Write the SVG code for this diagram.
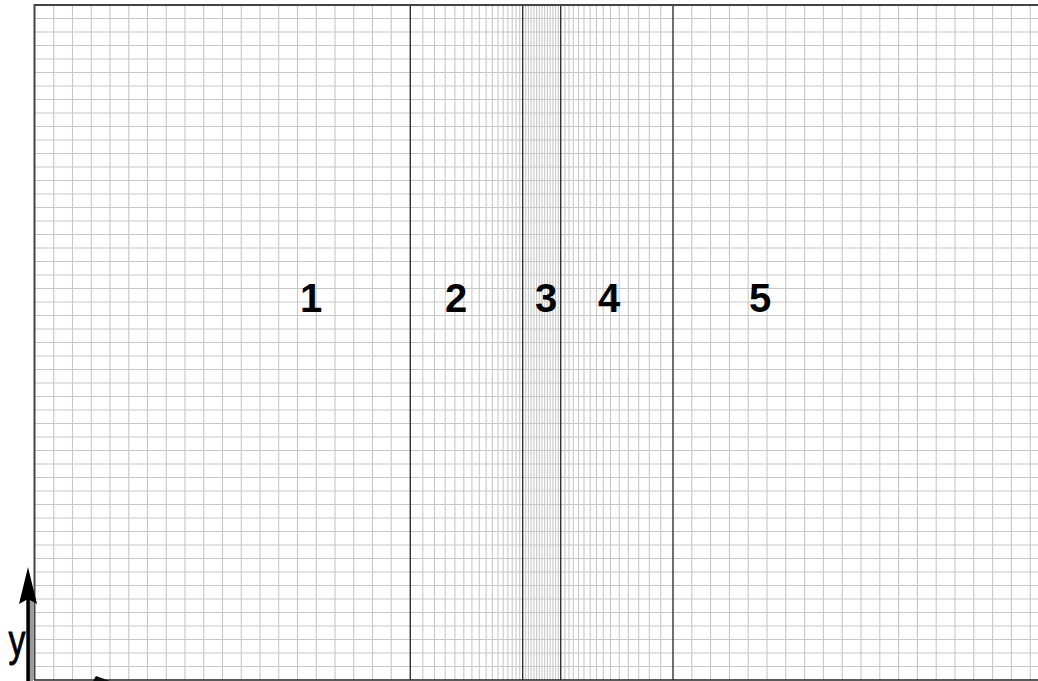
<svg xmlns="http://www.w3.org/2000/svg" width="1038" height="681" viewBox="0 0 1038 681">
<style>
.grid{fill:none;stroke:#c8c8c8;stroke-width:1.1}
.sep{fill:none;stroke:#333;stroke-width:1.4}
.border{fill:none;stroke:#444;stroke-width:2}
.lbl{font-family:"Liberation Sans",Arial,sans-serif;font-weight:bold;font-size:40px;fill:#000;text-anchor:middle}
.axis{font-family:"Liberation Sans",Arial,sans-serif;font-size:34px;fill:#000;stroke:#000;stroke-width:0.6;text-anchor:middle}
</style>
<rect width="1038" height="681" fill="#fff"/>
<g id="rows">
<path class="grid" d="M35 18.5H1038M35 32H1038M35 45.5H1038M35 59H1038M35 72.5H1038M35 86H1038M35 99.5H1038M35 113H1038M35 126.5H1038M35 140H1038M35 153.5H1038M35 167H1038M35 180.5H1038M35 194H1038M35 207.5H1038M35 221H1038M35 234.5H1038M35 248H1038M35 261.5H1038M35 275H1038M35 288.5H1038M35 302H1038M35 315.5H1038M35 329H1038M35 342.5H1038M35 356H1038M35 369.5H1038M35 383H1038M35 396.5H1038M35 410H1038M35 423.5H1038M35 437H1038M35 450.5H1038M35 464H1038M35 477.5H1038M35 491H1038M35 504.5H1038M35 518H1038M35 531.5H1038M35 545H1038M35 558.5H1038M35 572H1038M35 585.5H1038M35 599H1038M35 612.5H1038M35 626H1038M35 639.5H1038M35 653H1038M35 666.5H1038"/>
</g>
<g id="region1">
<path class="grid" d="M53.75 5V680M72.5 5V680M91.25 5V680M110 5V680M128.75 5V680M147.5 5V680M166.25 5V680M185 5V680M203.75 5V680M222.5 5V680M241.25 5V680M260 5V680M278.75 5V680M297.5 5V680M316.25 5V680M335 5V680M353.75 5V680M372.5 5V680M391.25 5V680"/>
<text class="lbl" x="311" y="312">1</text>
</g>
<g id="region2">
<path class="grid" d="M422.8 5V680M434.5 5V680M445.2 5V680M454.9 5V680M463.8 5V680M471.9 5V680M479.3 5V680M486.1 5V680M492.3 5V680M498 5V680M503.2 5V680M507.9 5V680M512.2 5V680M516.1 5V680M519.7 5V680"/>
<text class="lbl" x="456" y="312">2</text>
</g>
<g id="region3">
<path class="grid" d="M525.7 5V680M528.4 5V680M531.1 5V680M533.9 5V680M536.6 5V680M539.3 5V680M542 5V680M544.7 5V680M547.4 5V680M550.1 5V680M552.9 5V680M555.6 5V680M558.3 5V680"/>
<text class="lbl" x="546" y="312">3</text>
</g>
<g id="region4">
<path class="grid" d="M565 5V680M569 5V680M573.3 5V680M578.5 5V680M584 5V680M590.2 5V680M596.5 5V680M603.2 5V680M610.5 5V680M619.2 5V680M628.3 5V680M638.7 5V680M649.3 5V680M660.7 5V680"/>
<text class="lbl" x="609" y="312">4</text>
</g>
<g id="region5">
<path class="grid" d="M691.8 5V680M710.6 5V680M729.4 5V680M748.2 5V680M767 5V680M785.8 5V680M804.6 5V680M823.4 5V680M842.2 5V680M861 5V680M879.8 5V680M898.6 5V680M917.4 5V680M936.2 5V680M955 5V680M973.8 5V680M992.6 5V680M1011.4 5V680M1030.2 5V680"/>
<text class="lbl" x="760" y="312">5</text>
</g>
<g id="connectors">
<path class="sep" d="M410.3 5V680M522.7 5V680M560.7 5V680M673 5V680"/>
<path class="border" d="M34.5 680V5H1038"/>
<path fill="none" stroke="#222" stroke-width="1.6" d="M34 680H1038"/>
<rect x="30" y="598" width="3" height="83" fill="#9a9a9a"/>
<rect x="26.3" y="598" width="3.6" height="83" fill="#000"/>
<polygon points="28,567 37,604 28,599 19,604" fill="#000"/>
<polygon points="93,681 96,676 110,681" fill="#111"/>
<text class="axis" transform="translate(17,656) scale(1,1.3)">y</text>
</g>
</svg>
